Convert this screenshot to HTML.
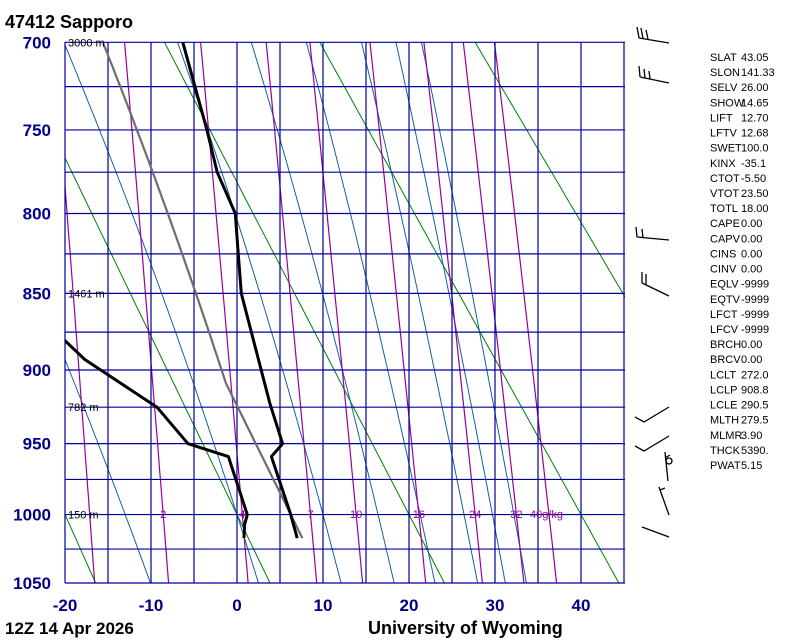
<!DOCTYPE html>
<html><head><meta charset="utf-8">
<style>
body{margin:0;background:#fff;}
svg{display:block;font-family:"Liberation Sans",sans-serif;}
</style></head>
<body>
<svg id="chart" width="800" height="640" viewBox="0 0 800 640">
<defs><clipPath id="plotclip"><rect x="65" y="42" width="560" height="541"/></clipPath></defs>
<g id="bg" clip-path="url(#plotclip)"></g>
<g id="grid"></g>
<g id="sound" clip-path="url(#plotclip)"></g>
<g id="labels"></g>
<g id="barbs" stroke="#000" stroke-width="1.3" fill="none">
<path d="M639,38 L669,43 M639,38 L637,27 M643,38.5 L641,28 M648,39 L646,30"/>
<path d="M640,77 L669,83 M640,77 L639,66 M645,78 L644,69 M650,79 L649,71"/>
<path d="M637,237 L669,240 M637,237 L636,227 M643,238 L642,229"/>
<path d="M642,283 L669,296 M642,283 L642,272 M646,285 L646,274"/>
<path d="M635,417 L644,422 L669,407"/>
<path d="M635,446 L644,451 L669,436"/>
<path d="M665,452 L668,481 M665,458 L670,455"/><circle cx="669" cy="461" r="3"/>
<path d="M659,487 L669,515 M660,490 L665,488"/>
<path d="M642,527 L669,537"/>
</g>
<g id="stats" font-size="11" fill="#000"></g>
<text x="5" y="28" font-size="18" font-weight="bold">47412  Sapporo</text>
<text x="5" y="634" font-size="17" font-weight="bold">12Z 14 Apr 2026</text>
<text x="368" y="634" font-size="18" font-weight="bold">University of Wyoming</text>
</svg>
<script>
// ---- data ----
const pressureTicks = [700,750,800,850,900,950,1000,1050];
const tempTicks = [-20,-10,0,10,20,30,40];
const thetaLines = [253.15,273.15,293.15,313.15,333.15];
const moistT1000 = [-13,0,10,16.4,21.3,26.4,29.7,32.2];
const mixRatios = [1,2,4,7,10,16,24,32,40];
const mixLabels = ["2","4","7","10","16","24","32","40g/kg"];
const mixLabelVals = [2,4,7,10,16,24,32,40];
const heightP = [700,850,925,1000];
const heightLabels = ["3000 m","1461 m","782 m","150 m"];
const tempP = [700,750,775,800,822,850,922,950,959,999,1017];
const tempT = [-6.3,-3.5,-2.3,-0.2,0.1,0.5,3.8,5.3,4.0,6.2,7.0];
const dewP = [870,893,925,950,959,1000,1007,1017];
const dewT = [-22,-17.7,-9.3,-5.7,-1.0,1.2,0.9,0.8];
const parcelSurfP = 1017, parcelSurfT = 7.6, lclP = 908.8;
const statNames = ["SLAT","SLON","SELV","SHOW","LIFT","LFTV","SWET","KINX","CTOT","VTOT","TOTL","CAPE","CAPV","CINS","CINV","EQLV","EQTV","LFCT","LFCV","BRCH","BRCV","LCLT","LCLP","LCLE","MLTH","MLMR","THCK","PWAT"];
const statVals = ["43.05","141.33","26.00","14.65","12.70","12.68","100.0","-35.1","-5.50","23.50","18.00","0.00","0.00","0.00","0.00","-9999","-9999","-9999","-9999","0.00","0.00","272.0","908.8","290.5","279.5","3.90","5390.","5.15"];

// ---- axes ----
const K=0.286, A=Math.pow(700,K), B=Math.pow(1050,K);
function yP(p){return 42.3+(Math.pow(p,K)-A)/(B-A)*540.7;}
function xT(t){return 237+8.6*t;}
const NS="http://www.w3.org/2000/svg";
function mk(tag,attrs,parent){const e=document.createElementNS(NS,tag);for(const k in attrs)e.setAttribute(k,attrs[k]);parent.appendChild(e);return e;}
const bg=document.getElementById('bg'),grid=document.getElementById('grid'),snd=document.getElementById('sound'),lab=document.getElementById('labels'),st=document.getElementById('stats');
function es(t){return 6.112*Math.exp(17.67*t/(t+243.5));}
function tFromEs(e){const l=Math.log(e/6.112);return 243.5*l/(17.67-l);}
function poly(pts,color,w,parent,name){const d=pts.map((q,i)=>(i?'L':'M')+q[0].toFixed(1)+','+q[1].toFixed(1)).join(' ');const e=mk('path',{d:d,stroke:color,'stroke-width':w,fill:'none','stroke-linejoin':'round'},parent);return e;}
function moistStep(p,T,dp){
  const Rd=287.04,cp=1005.7,L=2.501e6,eps=0.622;
  const f=(pp,TT)=>{const e=es(TT-273.15);const rs=eps*e/(pp-e);return (Rd*TT+L*rs)/(pp*(cp+L*L*rs*eps/(Rd*TT*TT)));};
  const k1=f(p,T),k2=f(p+dp/2,T+k1*dp/2),k3=f(p+dp/2,T+k2*dp/2),k4=f(p+dp,T+k3*dp);
  return T+dp*(k1+2*k2+2*k3+k4)/6;}
function moistPath(p0,T0C,pTop,pBot){
  let T=T0C+273.15,p=p0;const up=[[p,T]];
  while(p>pTop){T=moistStep(p,T,-2);p-=2;up.push([p,T]);}
  T=T0C+273.15;p=p0;const dn=[];
  while(p<pBot){T=moistStep(p,T,2);p+=2;dn.push([p,T]);}
  return up.reverse().concat(dn).map(q=>[xT(q[1]-273.15),yP(q[0])]);}

thetaLines.forEach(th=>{const pts=[];for(let p=700;p<=1050;p+=10)pts.push([xT(th*Math.pow(p/1000,K)-273.15),yP(p)]);poly(pts,'#008000',1,bg,'dry-adiabat');});
moistT1000.forEach(t=>{poly(moistPath(1000,t,700,1050),'#1560a0',1,bg,'moist-adiabat');});
mixRatios.forEach(w=>{const pts=[];for(let p=700;p<=1050;p+=10){const e=w*p/(622+w);pts.push([xT(tFromEs(e)),yP(p)]);}poly(pts,'#990099',1.2,bg,'mixing-ratio-line');});
for(let p=700;p<=1050;p+=25){const l=mk('line',{x1:65,x2:625,y1:yP(p),y2:yP(p),stroke:'#000099','stroke-width':1.2},grid);}
for(let t=-20;t<=45;t+=5){const l=mk('line',{x1:xT(t),x2:xT(t),y1:42,y2:583,stroke:'#000099','stroke-width':1.2},grid);}
pressureTicks.forEach(p=>{const t=mk('text',{x:51,y:yP(p)+6,'text-anchor':'end','font-size':17,'font-weight':'bold',fill:'#000088'},lab);t.textContent=p;});
tempTicks.forEach(v=>{const t=mk('text',{x:xT(v),y:611,'text-anchor':'middle','font-size':17,'font-weight':'bold',fill:'#000088'},lab);t.textContent=v;});
mixLabelVals.forEach((w,i)=>{const e=w*1000/(622+w);const x=xT(tFromEs(e));const last=i===mixLabelVals.length-1;const t=mk('text',{x:last?x-19:x,y:518,'text-anchor':last?'start':'middle','font-size':11,fill:'#990099'},lab);t.textContent=mixLabels[i];});
heightP.forEach((p,i)=>{const t=mk('text',{x:68,y:yP(p)+4,'font-size':11,fill:'#000'},lab);t.textContent=heightLabels[i];});
(function(){const pts=[];const th=(parcelSurfT+273.15)*Math.pow(1000/parcelSurfP,K);for(let p=parcelSurfP;p>=lclP;p-=4)pts.push([xT(th*Math.pow(p/1000,K)-273.15),yP(p)]);const tl=th*Math.pow(lclP/1000,K)-273.15;pts.push([xT(tl),yP(lclP)]);let T=tl+273.15,p=lclP;while(p>700){T=moistStep(p,T,-2);p-=2;pts.push([xT(T-273.15),yP(p)]);}poly(pts,'#6e6e6e',2.2,snd,'parcel-path');})();
poly(dewP.map((p,i)=>[xT(dewT[i]),yP(p)]),'#000',3,snd,'dewpoint-line');
poly(tempP.map((p,i)=>[xT(tempT[i]),yP(p)]),'#000',3,snd,'temperature-line');
statNames.forEach((n,i)=>{const y=61+i*15.11;const a=mk('text',{x:710,y:y},st);a.textContent=n;const b=mk('text',{x:741,y:y},st);b.textContent=statVals[i];});
</script>
</body></html>
